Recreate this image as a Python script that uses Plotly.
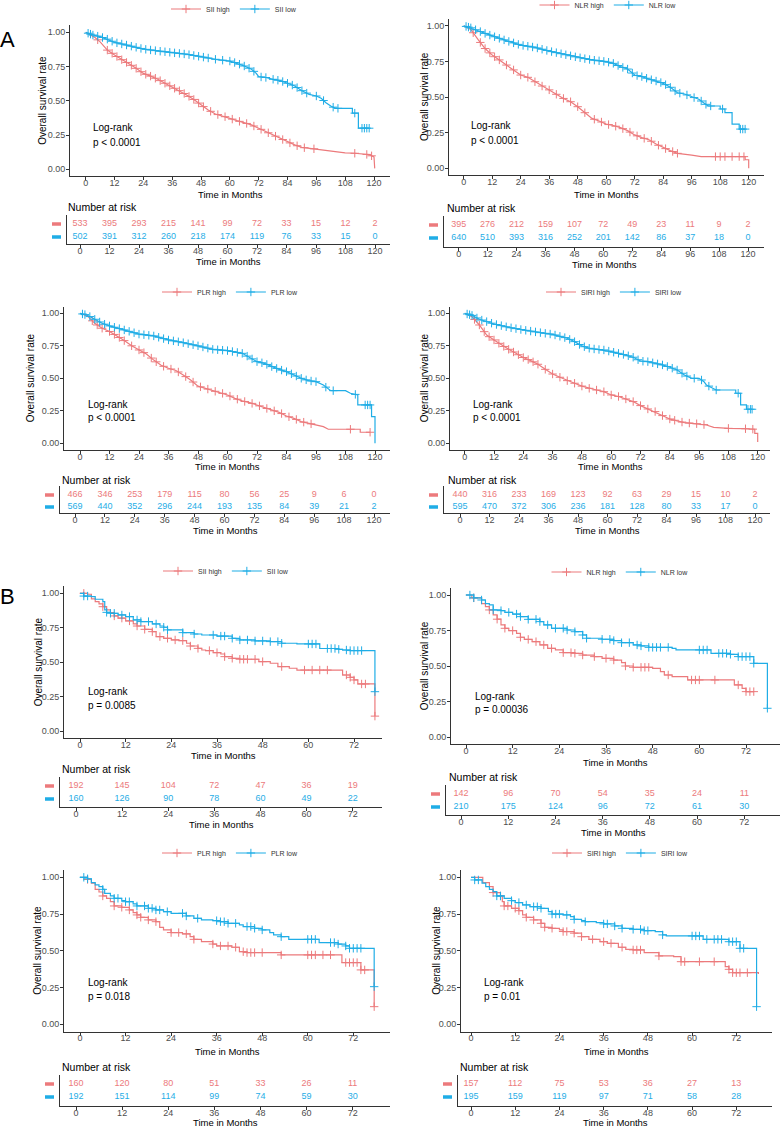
import numpy as np
import plotly.graph_objects as go

# ======================= DATA =======================
ticks_A = [0, 12, 24, 36, 48, 60, 72, 84, 96, 108, 120]
ticks_B = [0, 12, 24, 36, 48, 60, 72]
y_tickvals = [0, 0.25, 0.5, 0.75, 1.0]
y_ticklabels = ["0.00", "0.25", "0.50", "0.75", "1.00"]
marker_names = ["SII", "NLR", "PLR", "SIRI"]
p_text_A = ["p < 0.0001", "p < 0.0001", "p < 0.0001", "p < 0.0001"]
p_text_B = ["p = 0.0085", "p = 0.00036", "p = 0.018", "p = 0.01"]

# ---- Cohort A (months, survival) ----
A_SII_high_t = [0, 4, 6, 9, 12, 15, 18, 21, 24, 27, 30, 33, 36, 39, 42, 45, 48, 51, 54, 57, 60, 63, 66, 69, 72, 75, 78, 81, 84, 87, 90, 93, 96, 99, 102, 105, 108, 112, 115, 118, 120, 120.3]
A_SII_high_s = [1.0, 0.96, 0.93, 0.87, 0.835, 0.80, 0.77, 0.737, 0.70, 0.68, 0.657, 0.628, 0.60, 0.574, 0.543, 0.51, 0.47, 0.433, 0.404, 0.39, 0.372, 0.355, 0.34, 0.324, 0.30, 0.275, 0.25, 0.226, 0.20, 0.178, 0.16, 0.153, 0.148, 0.141, 0.129, 0.124, 0.12, 0.117, 0.112, 0.107, 0.09, 0.007]
A_SII_high_cens = [5, 9, 11, 13, 15, 17, 19, 21, 23, 25, 27, 29, 31, 33, 35, 37, 39, 41, 43, 45, 47, 49, 52, 55, 58, 61, 64, 67, 70, 73, 76, 79, 82, 85, 88, 91, 95, 112, 117, 119]
A_SII_low_t = [0, 3, 6, 9, 12, 18, 24, 30, 36, 42, 48, 54, 60, 63, 66, 69, 71, 72, 75, 78, 81, 84, 87, 90, 93, 96, 98, 100, 102, 104, 111, 111, 113.5, 113.5, 118]
A_SII_low_s = [1.0, 0.98, 0.968, 0.95, 0.927, 0.903, 0.878, 0.864, 0.852, 0.84, 0.822, 0.803, 0.79, 0.774, 0.754, 0.73, 0.70, 0.676, 0.67, 0.657, 0.647, 0.628, 0.608, 0.574, 0.547, 0.535, 0.518, 0.486, 0.462, 0.445, 0.445, 0.41, 0.41, 0.30, 0.30]
A_SII_low_cens = [1, 2, 3, 5, 7, 9, 11, 13, 15, 17, 19, 21, 23, 25, 27, 29, 31, 33, 35, 37, 39, 41, 43, 45, 47, 49, 51, 54, 57, 60, 62, 64, 66, 68, 70, 73, 75, 78, 80, 82, 84, 86, 88, 90, 92, 96, 99, 103, 105, 112, 115, 116, 117, 118]

A_NLR_high_t = [0, 3, 6, 9, 12, 15, 18, 21, 24, 27, 30, 33, 36, 39, 42, 45, 48, 51, 54, 57, 60, 63, 66, 69, 72, 75, 78, 81, 84, 87, 90, 93, 96, 100, 118.5, 118.5, 120, 120]
A_NLR_high_s = [1.0, 0.974, 0.904, 0.84, 0.794, 0.76, 0.724, 0.69, 0.654, 0.638, 0.607, 0.577, 0.55, 0.519, 0.49, 0.467, 0.432, 0.39, 0.35, 0.332, 0.31, 0.30, 0.285, 0.264, 0.234, 0.215, 0.20, 0.17, 0.145, 0.124, 0.105, 0.10, 0.093, 0.082, 0.082, 0.06, 0.06, 0.0]
A_NLR_high_cens = [4, 7, 9, 11, 13, 15, 18, 21, 24, 27, 30, 33, 36, 39, 42, 45, 48, 51, 55, 58, 61, 64, 67, 70, 73, 76, 79, 82, 85, 88, 90, 106, 108, 110, 113, 116, 118]
A_NLR_low_t = [0, 3, 6, 9, 12, 18, 24, 30, 36, 42, 48, 54, 60, 63, 66, 69, 72, 75, 78, 81, 84, 87, 90, 93, 96, 99, 101, 103, 108, 108, 110, 110, 113, 113, 116, 116, 118.5]
A_NLR_low_s = [1.0, 0.985, 0.965, 0.946, 0.928, 0.895, 0.864, 0.848, 0.822, 0.80, 0.778, 0.76, 0.748, 0.736, 0.713, 0.696, 0.654, 0.643, 0.626, 0.612, 0.596, 0.568, 0.53, 0.521, 0.502, 0.484, 0.46, 0.437, 0.437, 0.416, 0.416, 0.39, 0.39, 0.31, 0.31, 0.275, 0.275]
A_NLR_low_cens = [1, 2, 3, 5, 7, 9, 11, 13, 15, 17, 19, 21, 23, 25, 27, 29, 31, 33, 35, 37, 39, 41, 43, 45, 47, 49, 51, 53, 55, 57, 59, 61, 63, 65, 67, 69, 71, 73, 75, 77, 79, 81, 83, 85, 87, 89, 91, 94, 97, 100, 102, 104, 109, 116.5, 117.5, 118.5]

A_PLR_high_t = [0, 3, 6, 9, 12, 15, 18, 21, 24, 27, 30, 33, 36, 39, 42, 45, 48, 51, 54, 57, 60, 63, 66, 69, 72, 75, 78, 81, 84, 87, 90, 93, 96, 99, 101, 114, 114, 118]
A_PLR_high_s = [1.0, 0.98, 0.923, 0.885, 0.86, 0.826, 0.79, 0.75, 0.718, 0.687, 0.64, 0.60, 0.577, 0.56, 0.526, 0.487, 0.44, 0.423, 0.405, 0.39, 0.372, 0.346, 0.326, 0.313, 0.295, 0.274, 0.256, 0.238, 0.21, 0.192, 0.167, 0.154, 0.141, 0.128, 0.108, 0.108, 0.085, 0.085]
A_PLR_high_cens = [5, 7, 9, 12, 14, 16, 18, 21, 24, 26, 29, 31, 34, 37, 40, 43, 46, 49, 52, 55, 58, 61, 64, 67, 70, 73, 76, 79, 82, 85, 88, 91, 94, 110, 118]
A_PLR_low_t = [0, 3, 6, 9, 12, 18, 24, 30, 36, 42, 48, 54, 60, 66, 69, 72, 75, 78, 81, 84, 87, 90, 93, 96, 99, 101, 102, 108, 110, 113, 113, 118.6, 118.6, 120, 120]
A_PLR_low_s = [1.0, 0.985, 0.954, 0.923, 0.903, 0.872, 0.84, 0.826, 0.795, 0.774, 0.75, 0.723, 0.713, 0.692, 0.66, 0.628, 0.615, 0.59, 0.569, 0.551, 0.526, 0.50, 0.482, 0.474, 0.449, 0.415, 0.405, 0.405, 0.385, 0.372, 0.295, 0.295, 0.205, 0.205, 0.0]
A_PLR_low_cens = [1, 2, 4, 6, 8, 10, 12, 14, 16, 18, 20, 22, 24, 26, 28, 30, 32, 34, 36, 38, 40, 42, 44, 46, 48, 50, 52, 54, 56, 58, 60, 62, 64, 66, 68, 70, 72, 74, 76, 78, 80, 82, 84, 86, 88, 90, 92, 94, 96, 100, 103, 112, 116, 117, 118]

A_SIRI_high_t = [0, 3, 6, 9, 12, 15, 18, 21, 24, 27, 30, 33, 36, 39, 42, 45, 48, 51, 54, 57, 60, 63, 66, 69, 72, 75, 78, 81, 84, 87, 90, 93, 96, 99, 102, 108, 114, 118.8, 118.8, 120, 120]
A_SIRI_high_s = [1.0, 0.974, 0.91, 0.833, 0.795, 0.756, 0.723, 0.692, 0.66, 0.636, 0.608, 0.569, 0.533, 0.508, 0.482, 0.462, 0.44, 0.423, 0.41, 0.397, 0.372, 0.36, 0.341, 0.321, 0.29, 0.264, 0.244, 0.213, 0.187, 0.172, 0.159, 0.154, 0.149, 0.141, 0.123, 0.115, 0.113, 0.108, 0.077, 0.077, 0.01]
A_SIRI_high_cens = [4, 6, 8, 10, 12, 14, 16, 18, 20, 22, 24, 26, 28, 30, 33, 36, 39, 42, 45, 48, 51, 54, 57, 60, 63, 66, 69, 72, 75, 78, 81, 84, 86, 89, 92, 95, 98, 108, 115, 118]
A_SIRI_low_t = [0, 3, 6, 9, 12, 18, 24, 30, 36, 42, 45, 48, 51, 54, 57, 60, 63, 66, 69, 72, 75, 78, 81, 84, 87, 90, 93, 96, 98, 99, 101, 103, 111, 111, 113, 113, 115.4, 115.4, 117.7]
A_SIRI_low_s = [1.0, 0.984, 0.954, 0.936, 0.918, 0.892, 0.872, 0.854, 0.838, 0.808, 0.782, 0.749, 0.731, 0.723, 0.718, 0.705, 0.692, 0.679, 0.662, 0.633, 0.628, 0.615, 0.603, 0.585, 0.564, 0.526, 0.50, 0.50, 0.474, 0.449, 0.431, 0.41, 0.41, 0.385, 0.385, 0.295, 0.295, 0.262, 0.262]
A_SIRI_low_cens = [1, 2, 3, 5, 7, 9, 11, 13, 15, 17, 19, 21, 23, 25, 27, 29, 31, 33, 35, 37, 39, 41, 43, 45, 47, 49, 51, 53, 55, 57, 59, 61, 63, 65, 67, 69, 71, 73, 75, 77, 79, 81, 83, 85, 87, 89, 91, 94, 97, 100, 103, 112, 116, 117, 117.7]

# ---- Cohort B (step points) ----
B_SII_high_t = [0, 2, 3, 4, 5, 6, 7, 8, 9, 10, 12, 14, 15, 17, 19, 20, 22, 24, 26, 28, 29, 31, 32, 33, 35, 37, 38, 40, 42, 47, 50, 52, 55, 57, 69, 71, 72, 73, 77.5]
B_SII_high_s = [1.0, 0.993, 0.96, 0.94, 0.923, 0.903, 0.88, 0.86, 0.836, 0.82, 0.80, 0.778, 0.763, 0.739, 0.722, 0.686, 0.674, 0.662, 0.657, 0.638, 0.618, 0.601, 0.589, 0.585, 0.57, 0.56, 0.541, 0.529, 0.522, 0.505, 0.493, 0.469, 0.457, 0.444, 0.408, 0.391, 0.372, 0.343, 0.11]
B_SII_high_cens = [1, 6, 9, 11, 13, 15, 17, 19, 21, 23, 25, 27, 29, 31, 34, 36, 38, 40, 42, 43, 44, 46, 48, 53, 59, 61, 63, 65, 70, 71, 72, 74, 75, 77.5]
B_SII_low_t = [0, 1, 3, 4, 6, 6.5, 7, 8, 10, 12, 14, 16, 19, 21, 22, 23, 27, 30, 32, 36, 40, 42, 46, 50, 53, 57, 63, 68, 69, 71, 77.5]
B_SII_low_s = [1.0, 0.98, 0.976, 0.957, 0.94, 0.88, 0.862, 0.855, 0.843, 0.831, 0.807, 0.795, 0.778, 0.763, 0.754, 0.735, 0.715, 0.705, 0.698, 0.69, 0.674, 0.662, 0.655, 0.65, 0.638, 0.633, 0.60, 0.594, 0.589, 0.585, 0.287]
B_SII_low_cens = [1, 2, 7, 8, 9, 11, 13, 15, 16, 18, 20, 22, 23, 27, 30, 35, 37, 38, 40, 42, 44, 46, 48, 50, 52, 53, 60, 61, 62, 65, 66, 67, 68, 70, 71, 72, 73, 74, 77.5]

B_NLR_high_t = [0, 1.5, 4, 5, 6, 7, 8, 9, 10, 11, 13, 14, 15, 17, 19, 21, 23, 25, 28, 30, 33, 35, 38, 40, 41, 43, 48, 50, 51, 53, 57, 69, 71, 72, 74]
B_NLR_high_s = [1.0, 0.98, 0.94, 0.918, 0.895, 0.86, 0.83, 0.79, 0.766, 0.75, 0.73, 0.703, 0.688, 0.672, 0.649, 0.625, 0.614, 0.595, 0.59, 0.578, 0.567, 0.555, 0.543, 0.525, 0.501, 0.492, 0.485, 0.461, 0.438, 0.426, 0.403, 0.368, 0.344, 0.321, 0.321]
B_NLR_high_cens = [2, 6, 8, 10, 12, 14, 16, 18, 20, 22, 25, 27, 28, 30, 33, 36, 38, 41, 43, 45, 46, 47, 52, 58, 59, 60, 64, 70, 72, 73, 74]
B_NLR_low_t = [0, 2, 4, 5, 6, 7, 9, 10, 12, 14, 16, 19, 20, 22, 26, 28, 30, 31, 35, 38, 40, 43, 45, 47, 53, 54, 63, 68, 70, 74, 77.5]
B_NLR_low_s = [1.0, 0.98, 0.965, 0.94, 0.93, 0.895, 0.89, 0.878, 0.866, 0.848, 0.829, 0.813, 0.79, 0.766, 0.754, 0.742, 0.719, 0.696, 0.689, 0.68, 0.665, 0.649, 0.642, 0.632, 0.625, 0.614, 0.59, 0.583, 0.567, 0.52, 0.204]
B_NLR_low_cens = [1, 2, 4, 7, 9, 11, 13, 14, 16, 18, 19, 21, 23, 25, 26, 28, 30, 31, 35, 37, 38, 40, 42, 44, 45, 47, 48, 49, 50, 52, 60, 61, 62, 65, 66, 67, 68, 70, 71, 72, 73, 74, 77.5]

B_PLR_high_t = [0, 2, 3, 4, 5, 6, 7, 8, 9, 11, 13, 14, 15, 16, 18, 20, 21, 22, 24, 27, 29, 30, 32, 35, 36, 40, 42, 44, 53, 69, 74, 77.5]
B_PLR_high_s = [1.0, 0.985, 0.96, 0.918, 0.90, 0.873, 0.857, 0.834, 0.805, 0.796, 0.778, 0.76, 0.744, 0.728, 0.71, 0.698, 0.66, 0.642, 0.624, 0.615, 0.596, 0.578, 0.562, 0.546, 0.533, 0.524, 0.494, 0.488, 0.472, 0.42, 0.37, 0.12]
B_PLR_high_cens = [2, 6, 9, 11, 13, 15, 16, 18, 20, 24, 26, 28, 30, 35, 37, 39, 41, 43, 44, 45, 46, 48, 53, 60, 61, 62, 64, 66, 70, 71, 72, 73, 74, 75, 77.5]
B_PLR_low_t = [0, 2, 3, 4, 5, 6, 6.5, 8, 9, 11, 12, 14, 15, 18, 20, 22, 24, 28, 30, 32, 35, 37, 39, 42, 43, 46, 48, 50, 51, 53, 55, 63, 68, 70, 71, 77.5]
B_PLR_low_s = [1.0, 0.99, 0.964, 0.948, 0.937, 0.918, 0.89, 0.873, 0.857, 0.841, 0.834, 0.819, 0.805, 0.789, 0.778, 0.766, 0.755, 0.737, 0.721, 0.71, 0.705, 0.698, 0.687, 0.676, 0.665, 0.653, 0.642, 0.624, 0.608, 0.596, 0.578, 0.556, 0.546, 0.533, 0.517, 0.256]
B_PLR_low_cens = [1, 2, 6, 9, 10, 12, 13, 15, 17, 18, 19, 20, 21, 23, 27, 28, 31, 36, 37, 38, 39, 41, 44, 45, 46, 48, 53, 60, 61, 62, 66, 67, 68, 70, 71, 72, 73, 74, 77.5]

B_SIRI_high_t = [0, 3.2, 5, 6, 8, 8.5, 9, 11, 13, 14, 15, 17, 19, 20, 22, 24, 25, 28, 30, 32, 35, 37, 40, 42, 44, 47, 51, 55, 57, 69, 70, 71, 78]
B_SIRI_high_s = [1.0, 0.964, 0.937, 0.896, 0.873, 0.834, 0.805, 0.789, 0.773, 0.744, 0.728, 0.71, 0.687, 0.66, 0.653, 0.642, 0.631, 0.62, 0.596, 0.578, 0.562, 0.551, 0.524, 0.51, 0.506, 0.488, 0.465, 0.46, 0.426, 0.392, 0.374, 0.351, 0.342]
B_SIRI_high_cens = [6, 8, 9, 10, 12, 13, 15, 17, 19, 20, 22, 25, 26, 28, 30, 33, 36, 38, 41, 44, 45, 46, 51, 57, 58, 62, 66, 70, 71, 72, 73, 75]
B_SIRI_low_t = [0, 1, 3, 4, 5, 6, 7, 9, 11, 12, 14, 16, 19, 21, 22, 25, 27, 28, 30, 31, 34, 36, 39, 41, 44, 47, 50, 52, 53, 63, 70, 73, 77.5]
B_SIRI_low_s = [1.0, 0.982, 0.96, 0.937, 0.918, 0.902, 0.873, 0.857, 0.841, 0.828, 0.812, 0.80, 0.789, 0.766, 0.75, 0.744, 0.732, 0.714, 0.705, 0.698, 0.692, 0.683, 0.669, 0.653, 0.646, 0.637, 0.63, 0.608, 0.601, 0.578, 0.562, 0.517, 0.12]
B_SIRI_low_cens = [1, 2, 7, 8, 11, 13, 15, 17, 18, 19, 22, 23, 24, 26, 28, 31, 36, 37, 39, 41, 44, 46, 47, 48, 52, 60, 61, 62, 64, 66, 67, 68, 70, 71, 72, 73, 74, 77.5]

# ---- Number at risk ----
A_SII_risk_high = [533, 395, 293, 215, 141, 99, 72, 33, 15, 12, 2]
A_SII_risk_low = [502, 391, 312, 260, 218, 174, 119, 76, 33, 15, 0]
A_NLR_risk_high = [395, 276, 212, 159, 107, 72, 49, 23, 11, 9, 2]
A_NLR_risk_low = [640, 510, 393, 316, 252, 201, 142, 86, 37, 18, 0]
A_PLR_risk_high = [466, 346, 253, 179, 115, 80, 56, 25, 9, 6, 0]
A_PLR_risk_low = [569, 440, 352, 296, 244, 193, 135, 84, 39, 21, 2]
A_SIRI_risk_high = [440, 316, 233, 169, 123, 92, 63, 29, 15, 10, 2]
A_SIRI_risk_low = [595, 470, 372, 306, 236, 181, 128, 80, 33, 17, 0]
B_SII_risk_high = [192, 145, 104, 72, 47, 36, 19]
B_SII_risk_low = [160, 126, 90, 78, 60, 49, 22]
B_NLR_risk_high = [142, 96, 70, 54, 35, 24, 11]
B_NLR_risk_low = [210, 175, 124, 96, 72, 61, 30]
B_PLR_risk_high = [160, 120, 80, 51, 33, 26, 11]
B_PLR_risk_low = [192, 151, 114, 99, 74, 59, 30]
B_SIRI_risk_high = [157, 112, 75, 53, 36, 27, 13]
B_SIRI_risk_low = [195, 159, 119, 97, 71, 58, 28]

# ======================= STYLE / LAYOUT =======================
W, H = 784, 1127
RED = "#EC7A7C"
BLUE = "#1FADE6"
FONT = "Liberation Sans, Arial, sans-serif"
AXC = "#333333"
TICKC = "#4D4D4D"

curves = [
    (A_SII_high_t, A_SII_high_s, A_SII_high_cens, A_SII_low_t, A_SII_low_s, A_SII_low_cens, A_SII_risk_high, A_SII_risk_low),
    (A_NLR_high_t, A_NLR_high_s, A_NLR_high_cens, A_NLR_low_t, A_NLR_low_s, A_NLR_low_cens, A_NLR_risk_high, A_NLR_risk_low),
    (A_PLR_high_t, A_PLR_high_s, A_PLR_high_cens, A_PLR_low_t, A_PLR_low_s, A_PLR_low_cens, A_PLR_risk_high, A_PLR_risk_low),
    (A_SIRI_high_t, A_SIRI_high_s, A_SIRI_high_cens, A_SIRI_low_t, A_SIRI_low_s, A_SIRI_low_cens, A_SIRI_risk_high, A_SIRI_risk_low),
    (B_SII_high_t, B_SII_high_s, B_SII_high_cens, B_SII_low_t, B_SII_low_s, B_SII_low_cens, B_SII_risk_high, B_SII_risk_low),
    (B_NLR_high_t, B_NLR_high_s, B_NLR_high_cens, B_NLR_low_t, B_NLR_low_s, B_NLR_low_cens, B_NLR_risk_high, B_NLR_risk_low),
    (B_PLR_high_t, B_PLR_high_s, B_PLR_high_cens, B_PLR_low_t, B_PLR_low_s, B_PLR_low_cens, B_PLR_risk_high, B_PLR_risk_low),
    (B_SIRI_high_t, B_SIRI_high_s, B_SIRI_high_cens, B_SIRI_low_t, B_SIRI_low_s, B_SIRI_low_cens, B_SIRI_risk_high, B_SIRI_risk_low),
]
names = marker_names + marker_names
pvals = p_text_A + p_text_B
cohort = ["A"] * 4 + ["B"] * 4

# geometry in pixels for each panel
geo = [
    dict(L=70, R=390, y1=32.3, y0=169.3, x0=85.7, xN=374, ytx=43, lr=(91, 128, 143), leg=(234, 9), xt=194,
         tL=67, tx0=80, txN=375, nar=(66, 207), rows=(224, 237), tB=244, tt=261),
    dict(L=449, R=764, y1=25.7, y0=168.3, x0=463.7, xN=748.7, ytx=424, lr=(469, 126, 140), leg=(608, 5), xt=194,
         tL=444, tx0=458.7, txN=748, nar=(445, 208), rows=(225, 238), tB=247, tt=264),
    dict(L=64, R=390, y1=313.3, y0=443.3, x0=80, xN=375, ytx=30, lr=(86, 405, 418), leg=(230, 292), xt=466,
         tL=60, tx0=75, txN=374, nar=(60, 480), rows=(495, 507), tB=513, tt=530),
    dict(L=450, R=770, y1=313.3, y0=443.3, x0=464.7, xN=757.7, ytx=424, lr=(471, 405, 418), leg=(614, 292), xt=466,
         tL=444, tx0=460, txN=755, nar=(446, 480), rows=(495, 507), tB=513, tt=530),
    dict(L=64, R=382, y1=593.3, y0=731.3, x0=80, xN=354, ytx=38, lr=(86, 691, 705), leg=(226, 571), xt=755,
         tL=60, tx0=76, txN=352.7, nar=(60, 769), rows=(786, 799), tB=807, tt=824),
    dict(L=451, R=780, y1=595, y0=737.3, x0=466, xN=746, ytx=424, lr=(473, 696, 709), leg=(620, 572), xt=762,
         tL=446, tx0=461, txN=744.3, nar=(447, 777), rows=(794, 807), tB=815, tt=832),
    dict(L=64, R=390, y1=877.3, y0=1024.3, x0=80, xN=353.3, ytx=38, lr=(86, 982, 996), leg=(230, 853), xt=1051,
         tL=60, tx0=76, txN=352.7, nar=(60, 1067), rows=(1084, 1097), tB=1106, tt=1122),
    dict(L=461, R=772, y1=877.3, y0=1024.3, x0=471, xN=736.3, ytx=437, lr=(482, 982, 996), leg=(620, 853), xt=1051,
         tL=458, tx0=471, txN=736.3, nar=(458, 1067), rows=(1084, 1097), tB=1106, tt=1122),
]


def px(v):
    return v / W


def py(v):
    return 1 - v / H


def step_at(ts, ss, c):
    val = ss[0]
    for t, s in zip(ts, ss):
        if t <= c:
            val = s
        else:
            break
    return val


fig = go.Figure()
layout = dict(width=W, height=H, margin=dict(l=0, r=0, t=0, b=0, autoexpand=False),
              plot_bgcolor="white", paper_bgcolor="white",
              font=dict(family=FONT, color="black"), showlegend=True)
annotations = []
shapes = []

for i, (g, cv) in enumerate(zip(geo, curves)):
    hi_t, hi_s, hi_c, lo_t, lo_s, lo_c, rk_hi, rk_lo = cv
    is_A = cohort[i] == "A"
    ticks = ticks_A if is_A else ticks_B
    nmax = ticks[-1]
    kp, kt = 2 * i + 1, 2 * i + 2
    xp_name = "x" if kp == 1 else f"x{kp}"
    yp_name = "y" if kp == 1 else f"y{kp}"
    xt_name, yt_name = f"x{kt}", f"y{kt}"
    leg_name = "legend" if i == 0 else f"legend{i + 1}"

    # ---- KM plot axes ----
    unit = g["y0"] - g["y1"]
    T = g["y1"] - 0.05 * unit
    B = g["y0"] + 0.05 * unit
    scale = (g["xN"] - g["x0"]) / nmax
    xr = [(g["L"] - g["x0"]) / scale, (g["R"] - g["x0"]) / scale]
    common = dict(showline=True, linecolor=AXC, linewidth=1, ticks="outside", ticklen=3,
                  tickcolor=AXC, tickwidth=1, showgrid=False, zeroline=False,
                  tickfont=dict(size=9, color=TICKC, family=FONT))
    layout["xaxis" if kp == 1 else f"xaxis{kp}"] = dict(
        domain=[px(g["L"]), px(g["R"])], range=xr, anchor=yp_name, ticklabelstandoff=-5,
        tickmode="array", tickvals=ticks, ticktext=[str(t) for t in ticks], **common)
    layout["yaxis" if kp == 1 else f"yaxis{kp}"] = dict(
        domain=[py(B), py(T)], range=[-0.05, 1.05], anchor=xp_name, ticklabelstandoff=-1,
        tickmode="array", tickvals=y_tickvals, ticktext=y_ticklabels, **common)

    shape_mode = "linear" if is_A else "hv"
    for lab, t, s, c, col in [("high", hi_t, hi_s, hi_c, RED), ("low", lo_t, lo_s, lo_c, BLUE)]:
        fig.add_trace(go.Scatter(x=t, y=s, mode="lines", line=dict(color=col, width=1.2, shape=shape_mode),
                                 xaxis=xp_name, yaxis=yp_name, showlegend=False, hoverinfo="skip"))
        if is_A:
            cy = list(np.interp(c, t, s))
        else:
            cy = [step_at(t, s, v) for v in c]
        fig.add_trace(go.Scatter(x=c, y=cy, mode="markers",
                                 marker=dict(symbol="cross-thin", size=6, line=dict(color=col, width=1)),
                                 xaxis=xp_name, yaxis=yp_name, showlegend=False, hoverinfo="skip"))
        # legend entry
        fig.add_trace(go.Scatter(x=[None], y=[None], mode="lines+markers", name=f"{names[i]} {lab}",
                                 line=dict(color=col, width=1.2),
                                 marker=dict(symbol="cross-thin", size=6, line=dict(color=col, width=1)),
                                 xaxis=xp_name, yaxis=yp_name, legend=leg_name, showlegend=True))
    lcx, lcy = g["leg"]
    layout[leg_name] = dict(orientation="h", x=px(lcx), y=py(lcy), xanchor="center",
                            yanchor="middle", font=dict(size=7, family=FONT, color="#333"),
                            bgcolor="rgba(0,0,0,0)", itemwidth=30, tracegroupgap=0)

    # ---- risk table axes ----
    tscale = (g["txN"] - g["tx0"]) / nmax
    txr = [(g["tL"] - g["tx0"]) / tscale, (g["R"] - g["tx0"]) / tscale]
    rr, rb = g["rows"]
    tT = rr - 9
    runit = rb - rr
    tyr = [-(g["tB"] - rb) / runit, 1 + (rr - tT) / runit]
    layout[f"xaxis{kt}"] = dict(domain=[px(g["tL"]), px(g["R"])], range=txr, anchor=yt_name,
                                ticklabelstandoff=-5,
                                tickmode="array", tickvals=ticks, ticktext=[str(t) for t in ticks], **common)
    layout[f"yaxis{kt}"] = dict(domain=[py(g["tB"]), py(tT)], range=tyr, anchor=xt_name,
                                showline=True, linecolor=AXC, linewidth=1, ticks="", showticklabels=False,
                                showgrid=False, zeroline=False)
    fig.add_trace(go.Scatter(x=ticks, y=[1] * len(ticks), mode="text", text=[str(v) for v in rk_hi],
                             textfont=dict(color=RED, size=9, family=FONT), xaxis=xt_name, yaxis=yt_name,
                             showlegend=False, hoverinfo="skip", cliponaxis=False))
    fig.add_trace(go.Scatter(x=ticks, y=[0] * len(ticks), mode="text", text=[str(v) for v in rk_lo],
                             textfont=dict(color=BLUE, size=9, family=FONT), xaxis=xt_name, yaxis=yt_name,
                             showlegend=False, hoverinfo="skip", cliponaxis=False))
    for yv, col in [(1, RED), (0, BLUE)]:
        shapes.append(dict(type="line", xref="paper", yref=yt_name, x0=px(g["tL"] - 15), x1=px(g["tL"] - 6),
                           y0=yv, y1=yv, line=dict(color=col, width=3.5)))

    # ---- texts ----
    annotations.append(dict(text="Overall survival rate", textangle=-90, x=px(g["ytx"]), y=py((T + B) / 2),
                            xref="paper", yref="paper", showarrow=False, xanchor="center", yanchor="middle",
                            font=dict(size=10, color="black")))
    annotations.append(dict(text="Time in Months", x=px((g["L"] + g["R"]) / 2), y=py(g["xt"]),
                            xref="paper", yref="paper", showarrow=False, xanchor="center", yanchor="middle",
                            font=dict(size=9.5, color="black")))
    annotations.append(dict(text="Time in Months", x=px((g["tL"] + g["R"]) / 2), y=py(g["tt"]),
                            xref="paper", yref="paper", showarrow=False, xanchor="center", yanchor="middle",
                            font=dict(size=9.5, color="black")))
    annotations.append(dict(text="Number at risk", x=px(g["nar"][0]), y=py(g["nar"][1]),
                            xref="paper", yref="paper", showarrow=False, xanchor="left", yanchor="middle",
                            font=dict(size=10.5, color="black")))
    lx, ly1, ly2 = g["lr"]
    annotations.append(dict(text="Log-rank", x=px(lx), y=py(ly1), xref="paper", yref="paper", showarrow=False,
                            xanchor="left", yanchor="middle", font=dict(size=10, color="black")))
    annotations.append(dict(text=pvals[i], x=px(lx), y=py(ly2), xref="paper", yref="paper", showarrow=False,
                            xanchor="left", yanchor="middle", font=dict(size=10, color="black")))

annotations.append(dict(text="A", x=px(7), y=py(40), xref="paper", yref="paper", showarrow=False,
                        xanchor="center", yanchor="middle", font=dict(size=22, color="black")))
annotations.append(dict(text="B", x=px(8), y=py(596), xref="paper", yref="paper", showarrow=False,
                        xanchor="center", yanchor="middle", font=dict(size=22, color="black")))
# crop edge of the top-left table title, as in the source figure
shapes.append(dict(type="rect", xref="paper", yref="paper", x0=0, x1=px(392), y0=py(269), y1=py(263),
                   fillcolor="white", line=dict(width=0), layer="above"))

layout["annotations"] = annotations
layout["shapes"] = shapes
fig.update_layout(**layout)
fig.write_html("out.html")
